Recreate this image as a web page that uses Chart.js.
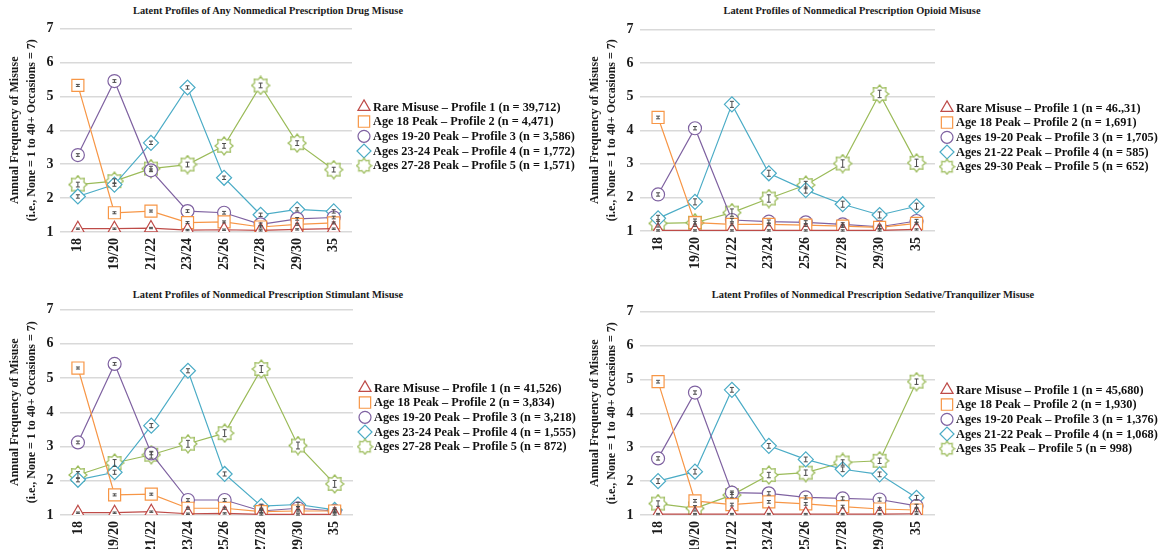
<!DOCTYPE html>
<html>
<head>
<meta charset="utf-8">
<script src="https://cdn.jsdelivr.net/npm/chart.js@4.4.0/dist/chart.umd.min.js"></script>
<style>
  body { margin: 0; background: #fff; width: 1170px; height: 549px; overflow: hidden; position: relative; font-family: "Liberation Serif", "Times New Roman", serif; }
  .title { position: absolute; font-weight: bold; font-size: 10.4px; white-space: nowrap; transform: translateX(-50%); color: #1a1a1a; }
  .panel { position: absolute; }
</style>
</head>
<body>
<div class="title" style="left:268px;top:5px">Latent Profiles of Any Nonmedical Prescription Drug Misuse</div>
<div class="title" style="left:852px;top:5px">Latent Profiles of Nonmedical Prescription Opioid Misuse</div>
<div class="title" style="left:268px;top:289px">Latent Profiles of Nonmedical Prescription Stimulant Misuse</div>
<div class="title" style="left:873px;top:289px">Latent Profiles of Nonmedical Prescription Sedative/Tranquilizer Misuse</div>

<div class="panel" style="left:0px;top:14px;width:585px;height:263px"><canvas id="anyChart"></canvas></div>
<div class="panel" style="left:580px;top:15px;width:590px;height:261px"><canvas id="opioidChart"></canvas></div>
<div class="panel" style="left:0px;top:295px;width:585px;height:265px"><canvas id="stimulantChart"></canvas></div>
<div class="panel" style="left:580px;top:297px;width:590px;height:263px"><canvas id="sedativeChart"></canvas></div>

<script>
// x categories (age at survey)
const ageGroups = ['18', '19/20', '21/22', '23/24', '25/26', '27/28', '29/30', '35'];

// Any nonmedical prescription drug misuse
const anyLegend = [
  'Rare Misuse – Profile 1 (n = 39,712)',
  'Age 18 Peak – Profile 2 (n = 4,471)',
  'Ages 19-20 Peak – Profile 3 (n = 3,586)',
  'Ages 23-24 Peak – Profile 4 (n = 1,772)',
  'Ages 27-28 Peak – Profile 5 (n = 1,571)'
];
const anyProfile1 = [1.10, 1.10, 1.12, 1.06, 1.07, 1.05, 1.08, 1.10];
const anyProfile2 = [5.32, 1.57, 1.62, 1.28, 1.30, 1.15, 1.23, 1.27];
const anyProfile3 = [3.27, 5.45, 2.82, 1.62, 1.57, 1.23, 1.39, 1.43];
const anyProfile4 = [2.05, 2.40, 3.63, 5.26, 2.60, 1.51, 1.67, 1.61];
const anyProfile5 = [2.40, 2.50, 2.87, 2.99, 3.54, 5.32, 3.62, 2.84];
const anyErrors = [0.02, 0.03, 0.04, 0.05, 0.07];

// Opioid misuse
const opioidLegend = [
  'Rare Misuse – Profile 1 (n = 46.,31)',
  'Age 18 Peak – Profile 2 (n = 1,691)',
  'Ages 19-20 Peak – Profile 3 (n = 1,705)',
  'Ages 21-22 Peak – Profile 4 (n = 585)',
  'Ages 29-30 Peak – Profile 5 (n = 652)'
];
const opioidProfile1 = [1.02, 1.02, 1.02, 1.02, 1.02, 1.02, 1.02, 1.05];
const opioidProfile2 = [4.38, 1.25, 1.20, 1.20, 1.18, 1.15, 1.11, 1.23];
const opioidProfile3 = [2.09, 4.06, 1.33, 1.28, 1.26, 1.20, 1.13, 1.30];
const opioidProfile4 = [1.38, 1.87, 4.77, 2.72, 2.22, 1.80, 1.48, 1.74];
const opioidProfile5 = [1.23, 1.25, 1.55, 1.97, 2.37, 3.01, 5.08, 3.03];
const opioidErrors = [0.02, 0.04, 0.05, 0.09, 0.11];

// Stimulant misuse
const stimulantLegend = [
  'Rare Misuse – Profile 1 (n = 41,526)',
  'Age 18 Peak – Profile 2 (n = 3,834)',
  'Ages 19-20 Peak – Profile 3 (n = 3,218)',
  'Ages 23-24 Peak – Profile 4 (n = 1,555)',
  'Ages 27-28 Peak – Profile 5 (n = 872)'
];
const stimulantProfile1 = [1.07, 1.07, 1.10, 1.04, 1.05, 1.02, 1.02, 1.02];
const stimulantProfile2 = [5.29, 1.59, 1.61, 1.20, 1.20, 1.10, 1.12, 1.12];
const stimulantProfile3 = [3.12, 5.41, 2.80, 1.44, 1.44, 1.12, 1.20, 1.12];
const stimulantProfile4 = [2.03, 2.25, 3.61, 5.21, 2.20, 1.26, 1.31, 1.15];
const stimulantProfile5 = [2.17, 2.52, 2.76, 3.08, 3.39, 5.26, 3.03, 1.91];
const stimulantErrors = [0.02, 0.03, 0.04, 0.06, 0.10];

// Sedative/tranquilizer misuse
const sedativeLegend = [
  'Rare Misuse – Profile 1 (n = 45,680)',
  'Age 18 Peak – Profile 2 (n = 1,930)',
  'Ages 19-20 Peak – Profile 3 (n = 1,376)',
  'Ages 21-22 Peak – Profile 4 (n = 1,068)',
  'Ages 35 Peak – Profile 5 (n = 998)'
];
const sedativeProfile1 = [1.03, 1.03, 1.03, 1.03, 1.03, 1.03, 1.03, 1.04];
const sedativeProfile2 = [4.93, 1.42, 1.31, 1.39, 1.33, 1.25, 1.18, 1.15];
const sedativeProfile3 = [2.67, 4.61, 1.66, 1.64, 1.52, 1.49, 1.46, 1.27];
const sedativeProfile4 = [2.00, 2.28, 4.69, 3.04, 2.64, 2.35, 2.20, 1.51];
const sedativeProfile5 = [1.34, 1.20, 1.59, 2.18, 2.25, 2.55, 2.60, 4.93];
const sedativeErrors = [0.02, 0.04, 0.05, 0.07, 0.08];

const yAxisTitle = ['Annual Frequency of Misuse', '(i.e., None = 1 to 40+ Occasions = 7)'];

const profileColors = ['#BE4B48', '#F79646', '#7F62A1', '#4BACC6', '#9BBB59'];
const serif = '"Liberation Serif", "Times New Roman", serif';

// 8-point burst marker used for profile 5
function starMarker(color, size) {
  const c = document.createElement('canvas');
  c.width = c.height = size * 2 + 2;
  const g = c.getContext('2d');
  const mid = size + 1;
  g.beginPath();
  for (let i = 0; i < 16; i++) {
    const r = i % 2 ? size * 0.72 : size;
    const a = -Math.PI / 2 + i * Math.PI / 8;
    const px = mid + r * Math.cos(a), py = mid + r * Math.sin(a);
    i ? g.lineTo(px, py) : g.moveTo(px, py);
  }
  g.closePath();
  g.fillStyle = '#fff';
  g.fill();
  g.strokeStyle = color;
  g.lineWidth = 1.2;
  g.stroke();
  return c;
}

const pointStyles = ['triangle', 'rect', 'circle', 'rectRot', starMarker(profileColors[4], 9)];
const legendStyles = ['triangle', 'rect', 'circle', 'rectRot', starMarker(profileColors[4], 7.5)];
const pointRadii = [7.5, 8.5, 6.5, 7.5, 9];
const legendRadii = [7, 8, 6, 7, 7.5];

// small I-beam standard error marks drawn on top of the markers
const errorBars = {
  id: 'errorBars',
  afterDatasetsDraw(chart) {
    const { ctx, scales: { y } } = chart;
    ctx.save();
    ctx.strokeStyle = '#4a4a4a';
    ctx.lineWidth = 1;
    chart.data.datasets.forEach((ds, i) => {
      chart.getDatasetMeta(i).data.forEach((pt, j) => {
        const top = y.getPixelForValue(ds.data[j] + ds.err);
        const bot = y.getPixelForValue(ds.data[j] - ds.err);
        ctx.beginPath();
        ctx.moveTo(pt.x, top); ctx.lineTo(pt.x, bot);
        ctx.moveTo(pt.x - 2, top); ctx.lineTo(pt.x + 2, top);
        ctx.moveTo(pt.x - 2, bot); ctx.lineTo(pt.x + 2, bot);
        ctx.stroke();
      });
    });
    ctx.restore();
  }
};

// legend to the right of the plot (built-in one is capped at half the width)
const sideLegend = {
  id: 'sideLegend',
  afterDraw(chart) {
    const { ctx, chartArea } = chart;
    ctx.save();
    chart.data.datasets.forEach((ds, i) => {
      const y = chartArea.top + 78.5 + i * 14.7;
      const x = chartArea.right + 12;
      ctx.strokeStyle = ds.borderColor;
      ctx.fillStyle = '#fff';
      ctx.lineWidth = 1.2;
      Chart.helpers.drawPoint(ctx, { pointStyle: legendStyles[i], radius: legendRadii[i], borderWidth: 1.2 }, x, y);
      ctx.fillStyle = '#111';
      ctx.font = 'bold 12.3px ' + serif;
      ctx.textBaseline = 'middle';
      ctx.textAlign = 'left';
      ctx.fillText(ds.label, chartArea.right + 21, y + 0.5);
    });
    ctx.restore();
  }
};

function makePanel(id, legendLabels, series, errors, rightPad) {
  return new Chart(document.getElementById(id), {
    type: 'line',
    data: {
      labels: ageGroups,
      datasets: series.map((values, i) => ({
        label: legendLabels[i],
        data: values,
        err: errors[i],
        borderColor: profileColors[i],
        backgroundColor: '#fff',
        borderWidth: 1.2,
        pointStyle: pointStyles[i],
        pointRadius: pointRadii[i],
        pointBorderWidth: 1.2,
        pointBorderColor: profileColors[i],
        pointBackgroundColor: '#fff',
        tension: 0
      }))
    },
    options: {
      responsive: true,
      maintainAspectRatio: false,
      animation: false,
      layout: { padding: { left: 3, right: rightPad, top: 0, bottom: 1 } },
      plugins: {
        legend: { display: false },
        tooltip: { enabled: false }
      },
      scales: {
        x: {
          offset: true,
          grid: { display: false, drawTicks: false },
          border: { display: false },
          ticks: {
            autoSkip: false, minRotation: 90, maxRotation: 90, padding: 6,
            color: '#1a1a1a', font: { family: serif, size: 14, weight: 'bold' }
          }
        },
        y: {
          min: 1,
          max: 7,
          grid: { color: '#d9d9d9', lineWidth: 1.5, drawTicks: false },
          border: { display: false },
          ticks: {
            stepSize: 1, padding: 6,
            color: '#1a1a1a', font: { family: serif, size: 14, weight: 'bold' }
          },
          title: {
            display: true,
            text: yAxisTitle,
            color: '#1a1a1a',
            padding: { top: 4, bottom: 0 },
            font: { family: serif, size: 12, weight: 'bold', lineHeight: 1.4 }
          }
        }
      }
    },
    plugins: [errorBars, sideLegend]
  });
}

makePanel('anyChart', anyLegend,
  [anyProfile1, anyProfile2, anyProfile3, anyProfile4, anyProfile5], anyErrors, 233);
makePanel('opioidChart', opioidLegend,
  [opioidProfile1, opioidProfile2, opioidProfile3, opioidProfile4, opioidProfile5], opioidErrors, 235);
makePanel('stimulantChart', stimulantLegend,
  [stimulantProfile1, stimulantProfile2, stimulantProfile3, stimulantProfile4, stimulantProfile5], stimulantErrors, 232);
makePanel('sedativeChart', sedativeLegend,
  [sedativeProfile1, sedativeProfile2, sedativeProfile3, sedativeProfile4, sedativeProfile5], sedativeErrors, 235);
</script>
</body>
</html>
